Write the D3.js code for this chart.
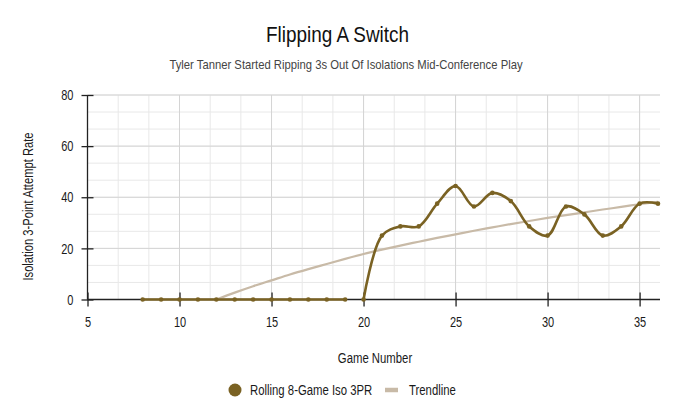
<!DOCTYPE html>
<html>
<head>
<meta charset="utf-8">
<script src="https://cdn.jsdelivr.net/npm/d3@7"></script>
<style>
  html, body { margin: 0; padding: 0; background: #fff; }
  svg text { font-family: "Liberation Sans", Arial, sans-serif; }
</style>
</head>
<body>
<svg id="chart" width="680" height="418"></svg>
<script>
// ---- data ----
const games = [8, 9, 10, 11, 12, 13, 14, 15, 16, 17, 18, 19, 20, 21, 22, 23, 24, 25, 26, 27, 28, 29, 30, 31, 32, 33, 34, 35, 36];
const rollingIso3PR = [0, 0, 0, 0, 0, 0, 0, 0, 0, 0, 0, 0, 0, 25, 28.6, 28.6, 37.5, 44.4, 36.4, 41.7, 38.5, 28.6, 25, 36.4, 33.3, 25, 28.6, 37.5, 37.5];
const lineBreakAfter = 19;
const trendGames = [12, 13, 14, 15, 16, 17, 18, 19, 20, 21, 22, 23, 24, 25, 26, 27, 28, 29, 30, 31, 32, 33, 34, 35, 36];
const trendValues = [0, 2.7, 5.2, 7.5, 9.8, 11.9, 13.9, 15.9, 17.8, 19.5, 21.1, 22.6, 24.1, 25.5, 26.9, 28.2, 29.5, 30.7, 31.9, 33.0, 34.1, 35.2, 36.2, 37.3, 38.2];
const xTicks = [5, 10, 15, 20, 25, 30, 35];
const yTicks = [0, 20, 40, 60, 80];
const titleText = "Flipping A Switch";
const subtitleText = "Tyler Tanner Started Ripping 3s Out Of Isolations Mid-Conference Play";
const xTitle = "Game Number";
const yTitle = "Isolation 3-Point Attempt Rate";
const seriesNames = ["Rolling 8-Game Iso 3PR", "Trendline"];

// ---- setup ----
const mainColor = "#7a6223";
const trendColor = "#c8baa7";
const svg = d3.select("#chart");
const x = d3.scaleLinear().domain([5, 36]).range([87.5, 658]);
const y = d3.scaleLinear().domain([0, 80]).range([299.5, 95]);
const plotRight = 660;

// narrow-font imitation: squeeze text horizontally
function condense(sel, factor) {
  sel.each(function () {
    const w = this.getComputedTextLength();
    d3.select(this).attr("textLength", w * factor).attr("lengthAdjust", "spacingAndGlyphs");
  });
}

// gridlines (minor: thirds of each major interval)
const xMinor = d3.range(5, 36.01, 5 / 3);
const yMinor = d3.range(0, 80.01, 20 / 3);
const grid = svg.append("g");
grid.selectAll(".vx").data(xMinor).join("line")
  .attr("x1", d => x(d)).attr("x2", d => x(d))
  .attr("y1", y(80)).attr("y2", y(0))
  .attr("stroke", "#e8e8e8").attr("stroke-width", 1);
grid.selectAll(".hy").data(yMinor).join("line")
  .attr("x1", x(5)).attr("x2", plotRight)
  .attr("y1", d => y(d)).attr("y2", d => y(d))
  .attr("stroke", "#e8e8e8").attr("stroke-width", 1);
grid.selectAll(".vmaj").data(xTicks).join("line")
  .attr("x1", d => x(d)).attr("x2", d => x(d))
  .attr("y1", y(80)).attr("y2", y(0))
  .attr("stroke", "#d4d4d4").attr("stroke-width", 1);
grid.selectAll(".hmaj").data(yTicks).join("line")
  .attr("x1", x(5)).attr("x2", plotRight)
  .attr("y1", d => y(d)).attr("y2", d => y(d))
  .attr("stroke", "#d4d4d4").attr("stroke-width", 1);

// axes
const xAxis = svg.append("g").attr("transform", `translate(0,${y(0)})`)
  .call(d3.axisBottom(x).tickValues(xTicks).tickSize(0).tickPadding(17).tickFormat(d3.format("d")));
xAxis.select(".domain").remove();
xAxis.append("line").attr("x1", x(5)).attr("x2", plotRight).attr("stroke", "#222").attr("stroke-width", 1.3);
xAxis.selectAll(".tick").append("line").attr("y1", -7).attr("y2", 7).attr("stroke", "#222").attr("stroke-width", 1.3);
xAxis.selectAll(".tick text").attr("font-size", 14.5).attr("fill", "#1a1a1a").call(condense, 0.76);

const yAxis = svg.append("g").attr("transform", `translate(${x(5)},0)`)
  .call(d3.axisLeft(y).tickValues(yTicks).tickSize(0).tickPadding(14).tickFormat(d3.format("d")));
yAxis.select(".domain").remove();
yAxis.append("line").attr("y1", y(0)).attr("y2", y(80)).attr("stroke", "#222").attr("stroke-width", 1.3);
yAxis.selectAll(".tick").append("line").attr("x1", -6).attr("x2", 6).attr("stroke", "#222").attr("stroke-width", 1.3);
yAxis.selectAll(".tick text").attr("font-size", 14.5).attr("fill", "#1a1a1a").call(condense, 0.76);

// trendline
const trendData = trendGames.map((g, i) => ({ g, v: trendValues[i] }));
svg.append("path").datum(trendData)
  .attr("fill", "none").attr("stroke", trendColor).attr("stroke-width", 2.2)
  .attr("d", d3.line().x(d => x(d.g)).y(d => y(d.v)).curve(d3.curveMonotoneX));

// main series, split into two segments
const mainData = games.map((g, i) => ({ g, v: rollingIso3PR[i] }));
const seg1 = mainData.filter(d => d.g <= lineBreakAfter);
const seg2 = mainData.filter(d => d.g > lineBreakAfter);
const mainLine = d3.line().x(d => x(d.g)).y(d => y(d.v)).curve(d3.curveCatmullRom.alpha(0.5));
[seg1, seg2].forEach(seg => {
  svg.append("path").datum(seg)
    .attr("fill", "none").attr("stroke", mainColor).attr("stroke-width", 2.6)
    .attr("d", mainLine);
});
svg.append("g").selectAll("circle").data(mainData).join("circle")
  .attr("cx", d => x(d.g)).attr("cy", d => y(d.v)).attr("r", 2.3)
  .attr("fill", mainColor);

// titles
svg.append("text").attr("x", 337.5).attr("y", 41.5).attr("text-anchor", "middle")
  .attr("font-size", 22).attr("fill", "#111").text(titleText).call(condense, 0.86);
svg.append("text").attr("x", 346).attr("y", 69.3).attr("text-anchor", "middle")
  .attr("font-size", 13.5).attr("fill", "#444").text(subtitleText).call(condense, 0.835);
svg.append("text").attr("x", 375).attr("y", 363).attr("text-anchor", "middle")
  .attr("font-size", 14).attr("fill", "#1a1a1a").text(xTitle).call(condense, 0.81);
svg.append("text").attr("transform", "translate(33,206.5) rotate(-90)").attr("text-anchor", "middle")
  .attr("font-size", 14).attr("fill", "#1a1a1a").text(yTitle).call(condense, 0.8);

// legend
const lg = svg.append("g");
lg.append("circle").attr("cx", 235).attr("cy", 390).attr("r", 6.5).attr("fill", mainColor);
lg.append("text").attr("x", 250).attr("y", 395).attr("font-size", 14).attr("fill", "#1a1a1a").text(seriesNames[0]).call(condense, 0.81);
lg.append("line").attr("x1", 385).attr("x2", 398).attr("y1", 390).attr("y2", 390)
  .attr("stroke", trendColor).attr("stroke-width", 4.5);
lg.append("text").attr("x", 409).attr("y", 395).attr("font-size", 14).attr("fill", "#1a1a1a").text(seriesNames[1]).call(condense, 0.81);
</script>
</body>
</html>
